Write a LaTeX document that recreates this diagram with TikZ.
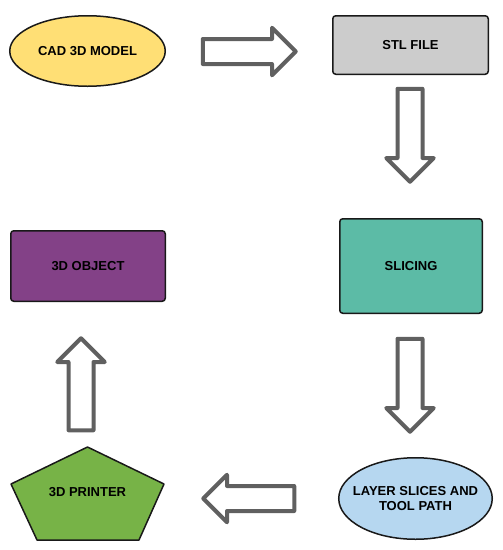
\documentclass[tikz,border=0pt]{standalone}
\usepackage{fontspec}
\setmainfont{Liberation Sans}
\usepackage{tikz}
\usetikzlibrary{shapes.geometric, shapes.arrows}
\definecolor{cadyellow}{HTML}{FFDF75}
\definecolor{stlgray}{HTML}{CCCCCC}
\definecolor{slicegreen}{HTML}{5CBBA6}
\definecolor{layerblue}{HTML}{B6D7F0}
\definecolor{printgreen}{HTML}{77B347}
\definecolor{objpurple}{HTML}{834187}
\definecolor{arrowgray}{HTML}{606060}

\begin{document}
\begin{tikzpicture}[x=1pt, y=-1pt, font=\fontsize{13}{15}\selectfont\bfseries,
  box/.style={draw=black!90, line width=1.5pt, rounded corners=3pt, inner sep=0pt},
  oval/.style={ellipse, draw=black!90, line width=1.5pt, inner sep=0pt},
  flow/.style={single arrow, draw=arrowgray, line width=4pt, fill=white, line join=round,
    inner sep=10.5pt, single arrow head extend=11.25pt}]
\useasboundingbox (0,0) rectangle (503,550);
% process steps
\node[oval, fill=cadyellow, minimum width=155.5pt, minimum height=70.5pt,
  label=center:{CAD 3D MODEL}] (cad) at (87.5,51) {};
\node[box, fill=stlgray, minimum width=155.5pt, minimum height=58.5pt] (stl) at (410.5,45) {STL FILE};
\node[box, fill=slicegreen, minimum width=142.5pt, minimum height=94.5pt] (slicing) at (411,266) {SLICING};
\node[oval, fill=layerblue, minimum width=153.5pt, minimum height=81.5pt,
  label={[align=center]center:LAYER SLICES AND\\TOOL PATH}] (layers) at (415.5,498.5) {};
\draw[fill=printgreen, draw=black!90, line width=1.5pt, line join=round]
  (87.5,447) -- (164,484) -- (139,540) -- (37,540) -- (11,484) -- cycle;
\node (printer) at (87.5,492) {3D PRINTER};
\node[box, fill=objpurple, minimum width=154.5pt, minimum height=70.5pt] (object) at (88,266) {3D OBJECT};
% block arrows
\node[flow, minimum height=93pt] (a1) at (243,51.5) {};
\node[flow, minimum height=93pt, shape border rotate=270] (a2) at (410,129) {};
\node[flow, minimum height=93pt, shape border rotate=270] (a3) at (410,379) {};
\node[flow, minimum height=91pt, shape border rotate=180] (a4) at (255,498.5) {};
\node[flow, minimum height=92pt, shape border rotate=90] (a5) at (81,390.5) {};
\end{tikzpicture}
\end{document}
